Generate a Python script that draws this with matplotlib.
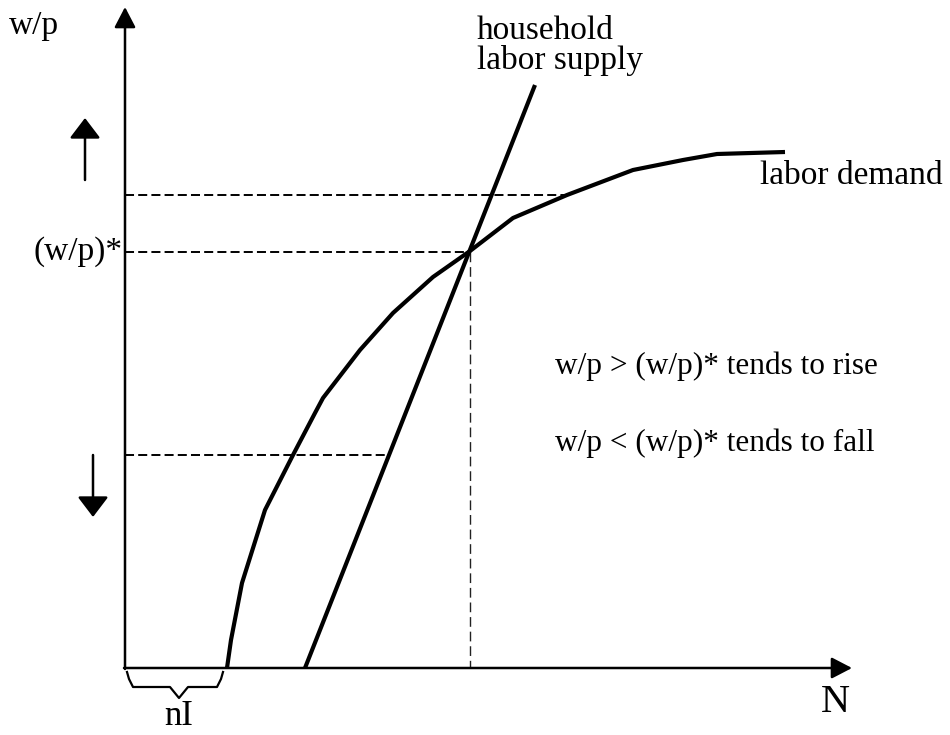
import matplotlib
matplotlib.use("Agg")
import matplotlib.pyplot as plt
import numpy as np

plt.rcParams['font.family'] = ['Liberation Serif', 'DejaVu Serif']
plt.rcParams['lines.scale_dashes'] = False

# labor demand curve (N, w/p)
demand_N = [102, 106, 117, 140, 168, 190, 198, 235, 268, 308, 345, 388, 442, 508, 558, 592, 660]
demand_W = [0, 28, 85, 158, 213, 255, 270, 318, 355, 391, 417, 450, 473, 498, 508, 514, 516]

# household labor supply (straight line)
supply_N = [180, 410]
supply_W = [0, 583]

# equilibrium and the two off-equilibrium wages
eq_N, eq_W = 345, 416
high_W, high_N = 473, 442
low_W, low_N = 213, 262

# nI brace along the N axis
brace_N = [2, 4, 8, 45, 54, 63, 92, 96, 98]
brace_W = [-4, -11, -19, -19, -30, -19, -19, -11, -4]

fig = plt.figure(figsize=(9.5, 7.35), dpi=100)
ax = fig.add_axes([0, 0, 1, 1])
ax.set_xlim(-125, 825)
ax.set_ylim(-67, 668)
ax.axis('off')

# axes with arrowheads
axis_style = dict(arrowstyle='-|>,head_length=0.5,head_width=0.26', mutation_scale=25,
                  lw=1.8, color='black', shrinkA=0, shrinkB=0)
ax.annotate('', xy=(0, 661), xytext=(0, -1), arrowprops=axis_style)
ax.annotate('', xy=(727, 0), xytext=(-1, 0), arrowprops=axis_style)

# dashed guides
dash = (0, (6.5, 3.0))
ax.plot([0, high_N], [high_W, high_W], color='black', lw=1.4, linestyle=dash)
ax.plot([0, eq_N], [eq_W, eq_W], color='black', lw=1.4, linestyle=dash)
ax.plot([0, low_N], [low_W, low_W], color='black', lw=1.4, linestyle=dash)
ax.plot([eq_N, eq_N], [eq_W, 0], color='#222222', lw=1.0, linestyle=(0, (7, 3.5)))

# curves
ax.plot(demand_N, demand_W, color='black', lw=3, solid_capstyle='butt', solid_joinstyle='round')
ax.plot(supply_N, supply_W, color='black', lw=3, solid_capstyle='butt')

# brace
ax.plot(brace_N, brace_W, color='black', lw=1.6, solid_joinstyle='round')

# up / down arrows
side_style = dict(arrowstyle='-|>,head_length=0.5,head_width=0.38', mutation_scale=25,
                  lw=1.8, color='black', shrinkA=0, shrinkB=0)
ax.annotate('', xy=(-40, 550), xytext=(-40, 488), arrowprops=side_style)
ax.annotate('', xy=(-32, 151), xytext=(-32, 213), arrowprops=side_style)

# text
fs = 24
ax.text(-91, 642, 'w/p', fontsize=fs, ha='center', va='center')
ax.text(-2, eq_W, '(w/p)*', fontsize=fs, ha='right', va='center')
ax.text(352, 637, 'household', fontsize=fs, ha='left', va='center')
ax.text(352, 608, 'labor supply', fontsize=fs, ha='left', va='center')
ax.text(635, 492, 'labor demand', fontsize=fs, ha='left', va='center')
ax.text(430, 302, 'w/p > (w/p)* tends to rise', fontsize=22.5, ha='left', va='center')
ax.text(430, 225, 'w/p < (w/p)* tends to fall', fontsize=22.5, ha='left', va='center')
ax.text(710, -35, 'N', fontsize=29, ha='center', va='center')
ax.text(54, -57, 'nI', fontsize=25, ha='center', va='baseline')

fig.savefig('out.png', dpi=100)
